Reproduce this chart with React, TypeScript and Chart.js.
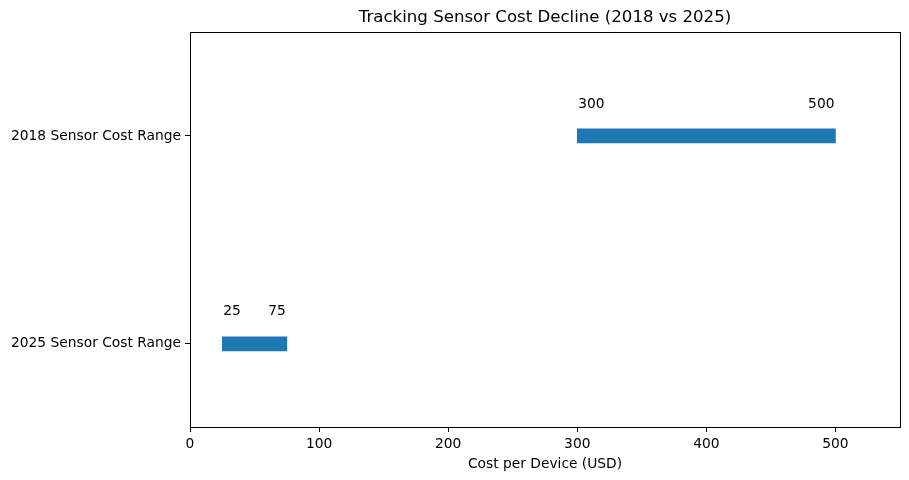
import React, { useRef, useEffect } from "react";
import Chart from "chart.js/auto";

const categories = ["2025 Sensor Cost Range", "2018 Sensor Cost Range"];
const positions = [0, 1];
const rangeStart = [25, 300];
const rangeEnd = [75, 500];
const xTicks = [0, 100, 200, 300, 400, 500];

const FONT = "'DejaVu Sans', sans-serif";

const framePlugin = {
  id: "frame",
  afterDraw(chart: any) {
    const { ctx, chartArea } = chart;
    ctx.save();
    ctx.strokeStyle = "#000";
    ctx.lineWidth = 1;
    ctx.strokeRect(
      Math.round(chartArea.left) + 0.5,
      Math.round(chartArea.top) + 0.5,
      Math.round(chartArea.right - chartArea.left),
      Math.round(chartArea.bottom - chartArea.top)
    );

    // title
    ctx.fillStyle = "#000";
    ctx.textAlign = "center";
    ctx.textBaseline = "middle";
    ctx.font = `16.6px ${FONT}`;
    ctx.fillText(
      "Tracking Sensor Cost Decline (2018 vs 2025)",
      (chartArea.left + chartArea.right) / 2,
      18
    );

    // value labels above bars
    ctx.font = `13.8px ${FONT}`;
    const meta = chart.getDatasetMeta(0);
    meta.data.forEach((bar: any, i: number) => {
      const xs = chart.scales.x;
      const x0 = xs.getPixelForValue(rangeStart[i]);
      const x1 = xs.getPixelForValue(rangeEnd[i]);
      const y = bar.y - 32;
      ctx.textAlign = "left";
      ctx.fillText(String(rangeStart[i]), x0 + 1, y);
      ctx.textAlign = "right";
      ctx.fillText(String(rangeEnd[i]), x1 - 1, y);
    });
    ctx.restore();
  },
};

export default function App() {
  const canvasRef = useRef<HTMLCanvasElement>(null);

  useEffect(() => {
    const ctx = canvasRef.current?.getContext("2d");
    if (!ctx) return;

    const chart = new Chart(ctx, {
      type: "bar",
      data: {
        datasets: [
          {
            data: positions.map((p, i) => ({
              y: p,
              x: [rangeStart[i], rangeEnd[i]],
            })) as any,
            backgroundColor: "#1f77b4",
            borderWidth: 0,
            barThickness: 14,
            borderSkipped: false,
          },
        ],
      },
      options: {
        indexAxis: "y",
        animation: false,
        responsive: false,
        layout: { padding: { top: 32, right: 9, left: 0, bottom: 0 } },
        plugins: {
          legend: { display: false },
          tooltip: { enabled: false },
          title: { display: false },
        },
        scales: {
          x: {
            type: "linear",
            min: 0,
            max: 550,
            offset: false,
            afterBuildTicks: (scale: any) => {
              scale.ticks = xTicks.map((v) => ({ value: v }));
            },
            afterFit: (scale: any) => {
              scale.height = 53;
            },
            ticks: {
              color: "#000",
              font: { family: FONT, size: 13.8 },
              padding: 4,
              maxRotation: 0,
            },
            grid: {
              offset: false,
              drawOnChartArea: false,
              drawTicks: true,
              tickLength: 5,
              color: "#000",
            },
            border: { display: true, color: "#000" },
            title: {
              display: true,
              text: "Cost per Device (USD)",
              color: "#000",
              font: { family: FONT, size: 13.8 },
              padding: { top: 4, bottom: 7 },
            },
          },
          y: {
            type: "linear",
            min: -0.4,
            max: 1.5,
            offset: false,
            afterBuildTicks: (scale: any) => {
              scale.ticks = positions.map((v) => ({ value: v }));
            },
            afterFit: (scale: any) => {
              scale.width = 190;
            },
            ticks: {
              color: "#000",
              font: { family: FONT, size: 13.8 },
              padding: 4,
              callback: (v: any) => categories[positions.indexOf(Number(v))] ?? "",
            },
            grid: {
              offset: false,
              drawOnChartArea: false,
              drawTicks: true,
              tickLength: 5,
              color: "#000",
            },
            border: { display: true, color: "#000" },
          },
        },
      },
      plugins: [framePlugin],
    });

    return () => chart.destroy();
  }, []);

  return (
    <div style={{ position: "fixed", left: 0, top: 0, width: 909, height: 480, background: "#fff" }}>
      <canvas ref={canvasRef} width={909} height={480} style={{ width: 909, height: 480 }} />
    </div>
  );
}
